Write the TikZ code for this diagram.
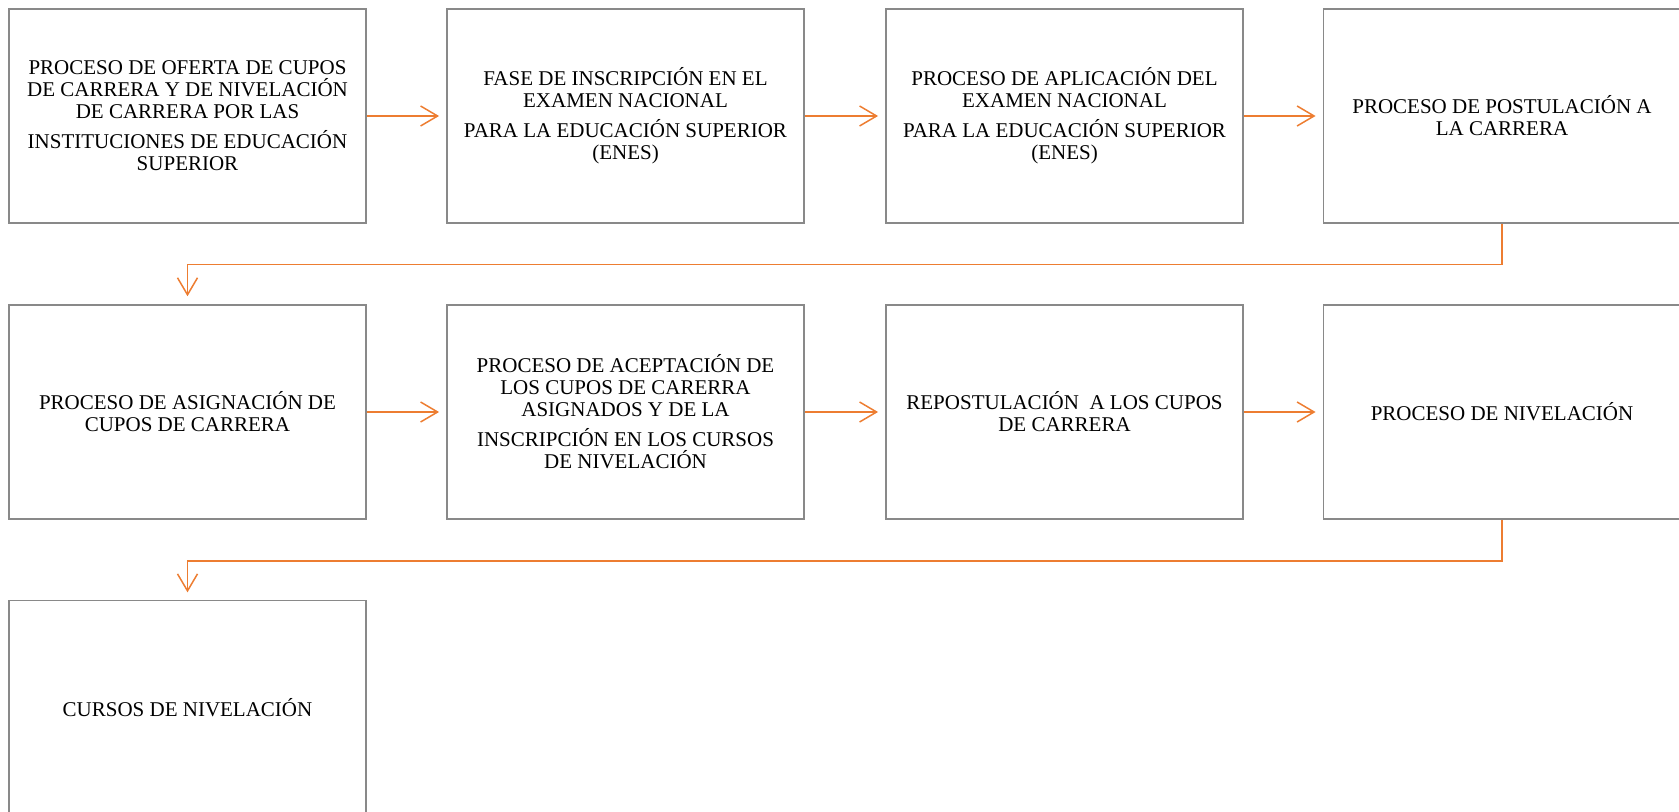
\documentclass[tikz,border=0pt]{standalone}
\usepackage{fontspec}
\setmainfont{Liberation Serif}
\usetikzlibrary{arrows.meta}
\definecolor{boxgray}{RGB}{137,137,137}
\definecolor{floworange}{RGB}{237,125,49}

\begin{document}
\begin{tikzpicture}[x=0.5pt, y=-0.5pt,
		proc/.style={draw=boxgray, line width=0.75pt, minimum width=178.5pt, minimum height=107pt,
			inner sep=0pt, align=center, font=\fontsize{10.5}{11}\selectfont},
		flow/.style={draw=floworange, line width=0.75pt,
			-{Straight Barb[length=8.5pt, width=10pt]}, shorten >=3.6pt}]
			%%%%% START %%%%%
			
			\useasboundingbox (0, 0) rectangle (1679, 812);
			\clip (0, 0) rectangle (1679, 812);
			
			% first row
			\node[proc] (oferta) at (187.5, 116) {PROCESO DE OFERTA DE CUPOS\\ DE CARRERA Y DE NIVELACIÓN\\ DE CARRERA POR LAS\\[4pt] INSTITUCIONES DE EDUCACIÓN\\ SUPERIOR};
			\node[proc] (inscrip) at (625.5, 116) {FASE DE INSCRIPCIÓN EN EL\\ EXAMEN NACIONAL\\[4pt] PARA LA EDUCACIÓN SUPERIOR\\ (ENES)};
			\node[proc] (aplica) at (1064.5, 116) {PROCESO DE APLICACIÓN DEL\\ EXAMEN NACIONAL\\[4pt] PARA LA EDUCACIÓN SUPERIOR\\ (ENES)};
			\node[proc] (postul) at (1502, 116) {PROCESO DE POSTULACIÓN A\\ LA CARRERA};
			
			% second row
			\node[proc] (asigna) at (187.5, 412) {PROCESO DE ASIGNACIÓN DE\\ CUPOS DE CARRERA};
			\node[proc] (acepta) at (625.5, 412) {PROCESO DE ACEPTACIÓN DE\\ LOS CUPOS DE CARERRA\\ ASIGNADOS Y DE LA\\[4pt] INSCRIPCIÓN EN LOS CURSOS\\ DE NIVELACIÓN};
			\node[proc] (repost) at (1064.5, 412) {REPOSTULACIÓN\ \ A LOS CUPOS\\ DE CARRERA};
			\node[proc] (nivela) at (1502, 412) {PROCESO DE NIVELACIÓN};
			
			% third row
			\node[proc] (cursos) at (187.5, 707.7) {CURSOS DE NIVELACIÓN};
			
			\draw[flow] (oferta) -- (inscrip);
			\draw[flow] (inscrip) -- (aplica);
			\draw[flow] (aplica) -- (postul);
			\draw[flow, shorten >=4pt] (postul.south) -- ++(0, 41) -| (asigna.north);
			
			\draw[flow] (asigna) -- (acepta);
			\draw[flow] (acepta) -- (repost);
			\draw[flow] (repost) -- (nivela);
			\draw[flow, shorten >=3.8pt] (nivela.south) -- ++(0, 41) -| (cursos.north);
			
			%%%%% END %%%%%
\end{tikzpicture}
\end{document}
